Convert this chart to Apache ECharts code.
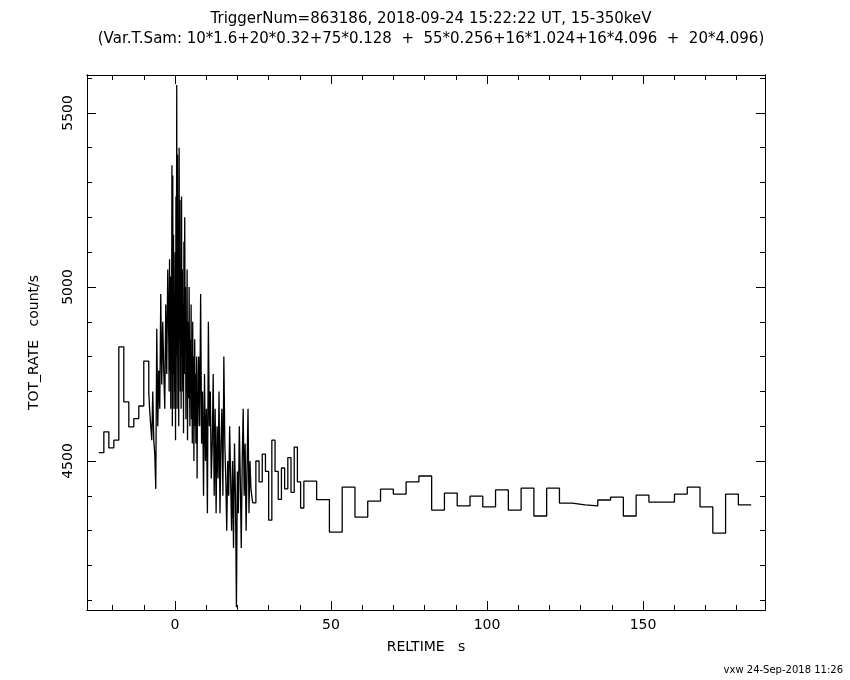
<!DOCTYPE html>
<html>
<head>
<meta charset="utf-8">
<script src="https://cdn.jsdelivr.net/npm/echarts@6/dist/echarts.min.js"></script>
<style>body{margin:0;background:#fff}#chart{width:850px;height:680px}</style>
</head>
<body>
<div id="chart"></div>
<script>
// sampling segments: [start time, bin width]
var segStarts = [-24.4, -8.4, -2.0, 7.6, 24.9, 41.3];
var segWidths = [1.6, 0.32, 0.128, 0.31, 1.024, 4.096];

var rate16 = [4524,4584,4538,4560,4828,4670,4598,4622,4658,4787];
var rate032 = [4698,4640,4600,4560,4700,4560,4520,4420,4880,4600,4760,4650,4980,4720,4900,4760,4650,4950,4750,5050];
var rate0128 = [4850,4700,5080,4760,5030,4650,4900,4820,5350,4600,5320,4750,5150,4650,4980,4700,5100,4560,5260,4800,
  5580,4650,5380,4900,5100,4600,5400,4850,5250,4700,5000,4650,5260,4800,5050,4700,4950,4580,5130,4750,
  5200,4880,5000,4620,4900,4700,5050,4560,4800,4900,4680,5000,4750,4600,4850,4700,4950,4620,4780,4550,
  4900,4650,4800,4500,4700,4850,4600,4750,4550,4650,4800,4450,4700,4600,4750];
var rate0256 = [4800,4600,4980,4550,4700,4400,4750,4500,4650,4350,4900,4600,4700,4450,4550,4750,4400,4650,4350,4600,
  4450,4700,4350,4550,4650,4400,4800,4550,4450,4300,4500,4400,4600,4450,4300,4500,4250,4550,4400,4080,
  4470,4350,4600,4450,4250,4500,4650,4400,4550,4300,4480,4650,4350,4500,4420];
var rate1024 = [4380,4500,4440,4520,4470,4330,4560,4470,4390,4480,4420,4510,4410,4540,4440,4365];
var rate4096 = [4442,4389,4296,4425,4339,4385,4419,4405,4440,4457,4359,4408,4371,4399,4368,4417,
  4359,4422,4342,4422,4379,4374,4371,4388,4396,4342,4402,4382,4382,4405,4425,4368,4293,4405,4374];

var xMajor = [0, 50, 100, 150];
var xMinor = [-20, -10, 10, 20, 30, 40, 60, 70, 80, 90, 110, 120, 130, 140, 160, 170, 180];
var yMajor = [4500, 5000, 5500];
var yMinor = [4100, 4200, 4300, 4400, 4600, 4700, 4800, 4900, 5100, 5200, 5300, 5400, 5600];

var segRates = [rate16, rate032, rate0128, rate0256, rate1024, rate4096];
var pts = [];
segRates.forEach(function (r, s) {
  for (var i = 0; i < r.length; i++) pts.push([segStarts[s] + i * segWidths[s], r[i]]);
});
var lastS = segRates.length - 1;
pts.push([segStarts[lastS] + rate4096.length * segWidths[lastS], rate4096[rate4096.length - 1]]);

var font = 'DejaVu Sans';
var txt = {fontFamily: font, fontSize: 14, color: '#000'};
var X0 = -28.2, X1 = 189.1, Y0 = 4072, Y1 = 5609;

function ax(pos, lo, hi, ticks, len, label, extra) {
  var a = {
    type: 'value', position: pos, min: lo, max: hi,
    axisLine: {show: true, onZero: false, lineStyle: {color: '#000', width: 1}},
    axisTick: {show: true, inside: true, length: len, customValues: ticks, lineStyle: {color: '#000'}},
    splitLine: {show: false},
    axisLabel: label ? Object.assign({customValues: ticks, formatter: function (v) { return String(v); }}, txt, label) : {show: false}
  };
  return Object.assign(a, extra || {});
}

var myChart = echarts.init(document.getElementById('chart'));
myChart.setOption({
  animation: false,
  backgroundColor: '#fff',
  title: [
    {text: 'TriggerNum=863186, 2018-09-24 15:22:22 UT, 15-350keV\n(Var.T.Sam: 10*1.6+20*0.32+75*0.128  +  55*0.256+16*1.024+16*4.096  +  20*4.096)',
      left: 426, textAlign: 'center', top: 4,
      textStyle: {fontFamily: font, fontSize: 15, fontWeight: 'normal', color: '#000', lineHeight: 20}},
    {text: 'vxw 24-Sep-2018 11:26', right: 2, top: 660,
      textStyle: {fontFamily: font, fontSize: 10, fontWeight: 'normal', color: '#000'}}
  ],
  grid: {left: 87, right: 85, top: 75, bottom: 70},
  xAxis: [
    ax('bottom', X0, X1, xMajor, 9, {margin: 8},
      {name: 'RELTIME   s', nameLocation: 'middle', nameGap: 30, nameTextStyle: txt}),
    ax('bottom', X0, X1, xMinor, 5),
    ax('top', X0, X1, xMajor, 9),
    ax('top', X0, X1, xMinor, 5)
  ],
  yAxis: [
    ax('left', Y0, Y1, yMajor, 9, {rotate: 90, margin: 12},
      {name: 'TOT_RATE   count/s', nameLocation: 'middle', nameGap: 46, nameTextStyle: txt}),
    ax('left', Y0, Y1, yMinor, 5),
    ax('right', Y0, Y1, yMajor, 9),
    ax('right', Y0, Y1, yMinor, 5)
  ],
  series: [{
    type: 'line', step: 'end', data: pts, showSymbol: false,
    lineStyle: {color: '#000', width: 1.3}
  }]
});
</script>
</body>
</html>
